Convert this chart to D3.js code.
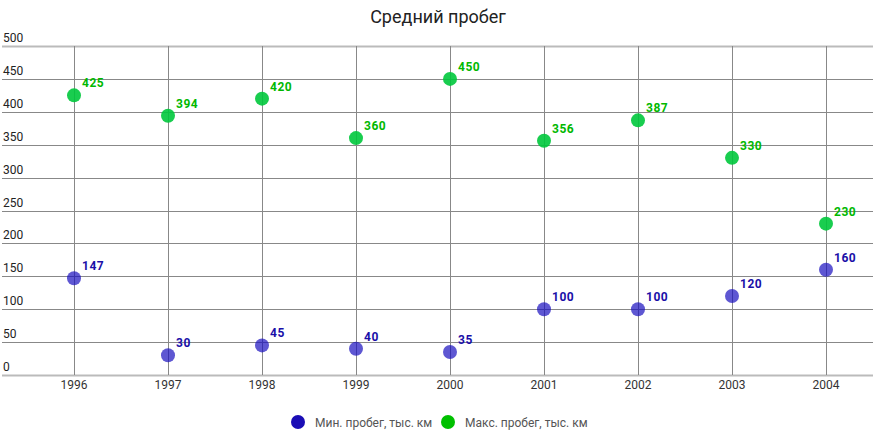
<!DOCTYPE html>
<html><head><meta charset="utf-8">
<script src="https://cdn.jsdelivr.net/npm/d3@7"></script>
<style>body{margin:0;background:#fff;font-family:Roboto,sans-serif}</style>
</head><body><svg id="c" width="876" height="439"></svg>
<script>
const categories = ["1996","1997","1998","1999","2000","2001","2002","2003","2004"];
const minValues = [147,30,45,40,35,100,100,120,160];
const maxValues = [425,394,420,360,450,356,387,330,230];
const yTicks = [0,50,100,150,200,250,300,350,400,450,500];
const seriesNames = ["Мин. пробег, тыс. км","Макс. пробег, тыс. км"];
const title = "Средний пробег";

const svg = d3.select("#c");
const x = d3.scaleBand().domain(categories).range([27, 873]);
const y = d3.scaleLinear().domain([0, 500]).range([375, 46]);
const gridL = 2, gridR = 873;

svg.append("text").attr("x", 438).attr("y", 23).attr("text-anchor","middle")
  .attr("font-size", 18).attr("fill","#222").text(title);

// horizontal grid
svg.append("g").selectAll("line").data(yTicks).join("line")
  .attr("x1", gridL).attr("x2", gridR)
  .attr("y1", d => Math.round(y(d))+0.5).attr("y2", d => Math.round(y(d))+0.5)
  .attr("stroke", d => (d===0||d===500) ? "#bbb" : "#888")
  .attr("stroke-width", d => (d===0||d===500) ? 2 : 1);
// vertical grid
svg.append("g").selectAll("line").data(categories).join("line")
  .attr("x1", d => Math.round(x(d)+x.bandwidth()/2)+0.5).attr("x2", d => Math.round(x(d)+x.bandwidth()/2)+0.5)
  .attr("y1", y(500)).attr("y2", y(0))
  .attr("stroke", "#888").attr("stroke-width", 1);

// y labels
svg.append("g").selectAll("text").data(yTicks).join("text")
  .attr("x", 3).attr("y", d => y(d) - 4)
  .attr("font-size", 12).attr("fill", "#222").text(d => d);
// x labels
svg.append("g").selectAll("text").data(categories).join("text")
  .attr("x", d => x(d)+x.bandwidth()/2).attr("y", 389).attr("text-anchor","middle")
  .attr("font-size", 12).attr("fill", "#333").text(d => d);

const series = [
  {vals: minValues, fill: "#1a0fbf", op: 0.7, lab: "#1a0fa8", leg: "#1a0db5"},
  {vals: maxValues, fill: "#00c83c", op: 0.9, lab: "#00b800", leg: "#00c000"}
];
series.forEach(s => {
  const g = svg.append("g");
  g.selectAll("circle").data(categories).join("circle")
    .attr("cx", d => x(d)+x.bandwidth()/2)
    .attr("cy", (d,i) => y(s.vals[i]))
    .attr("r", 7).attr("fill", s.fill).attr("fill-opacity", s.op);
  g.selectAll("text").data(categories).join("text")
    .attr("x", d => x(d)+x.bandwidth()/2 + 8)
    .attr("y", (d,i) => y(s.vals[i]) - 8)
    .attr("font-size", 12).attr("font-weight", "bold").attr("letter-spacing", 0.5)
    .attr("fill", s.lab).text((d,i) => s.vals[i]);
});

// legend
const legX = [298, 448];
series.forEach((s, i) => {
  svg.append("circle").attr("cx", legX[i]).attr("cy", 422).attr("r", 7).attr("fill", s.leg);
  svg.append("text").attr("x", legX[i] + 17).attr("y", 426.5)
    .attr("font-size", 12).attr("fill", "#555").text(seriesNames[i]);
});
</script></body></html>
